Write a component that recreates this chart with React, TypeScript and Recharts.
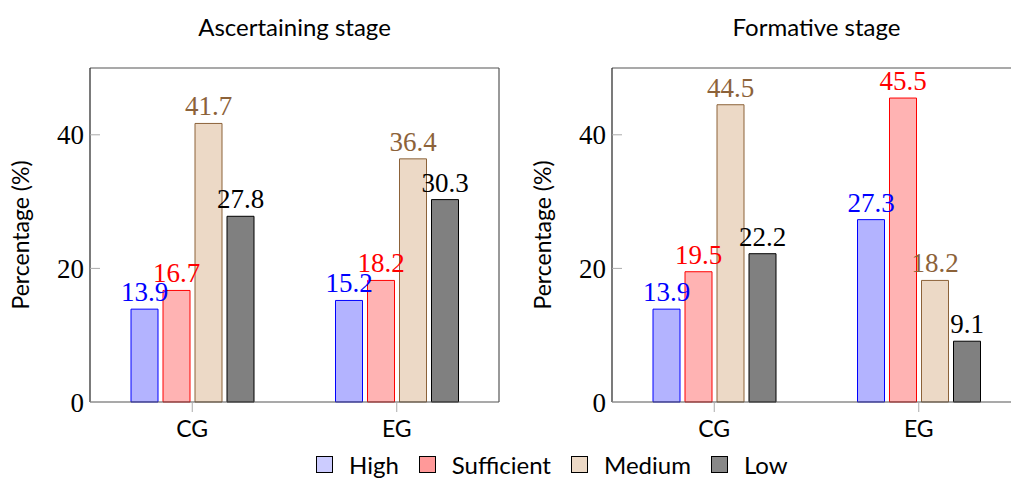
import React from 'react';
import { BarChart, Bar, XAxis, YAxis, LabelList } from 'recharts';

const groups = ['CG', 'EG'];
const yTicks = [0, 20, 40];

const seriesNames = ['High', 'Sufficient', 'Medium', 'Low'];

// Ascertaining stage values per series (CG, EG)
const ascHigh = [13.9, 15.2];
const ascSufficient = [16.7, 18.2];
const ascMedium = [41.7, 36.4];
const ascLow = [27.8, 30.3];

// Formative stage values per series (CG, EG)
const formHigh = [13.9, 27.3];
const formSufficient = [19.5, 45.5];
const formMedium = [44.5, 18.2];
const formLow = [22.2, 9.1];

const SERIF = '"Liberation Serif", "DejaVu Serif", serif';
const SANS = 'Lato, "Noto Sans", sans-serif';

const STYLES = [
  { key: 'high', fill: '#b3b3ff', stroke: '#0000ff', text: '#0000ff', legend: '#ccccff' },
  { key: 'sufficient', fill: '#ffb3b3', stroke: '#ff0000', text: '#ff0000', legend: '#ff9999' },
  { key: 'medium', fill: '#ecd9c6', stroke: '#8c6239', text: '#8c6239', legend: '#ecd9c6' },
  { key: 'low', fill: '#808080', stroke: '#000000', text: '#000000', legend: '#888888' },
];

const buildRows = (h: number[], s: number[], m: number[], l: number[]) =>
  groups.map((g, i) => ({ name: g, high: h[i], sufficient: s[i], medium: m[i], low: l[i] }));

const ascData = buildRows(ascHigh, ascSufficient, ascMedium, ascLow);
const formData = buildRows(formHigh, formSufficient, formMedium, formLow);

const spine = '#555';
const tickColor = '#aaa';

function YLabel(props: any) {
  const { viewBox } = props;
  const cx = 20;
  const cy = viewBox.y + viewBox.height / 2;
  return (
    <text
      x={cx}
      y={cy}
      transform={`rotate(-90, ${cx}, ${cy})`}
      textAnchor="middle"
      dominantBaseline="central"
      fontFamily={SANS}
      fontSize={23}
      fill="#000"
    >
      Percentage (%)
    </text>
  );
}

function StageChart({ data }: { data: any[] }) {
  return (
    <BarChart
      width={510}
      height={480}
      data={data}
      margin={{ top: 67, right: 10, bottom: 48, left: 50 }}
      barSize={27}
      barGap={5}
    >
      <XAxis
        dataKey="name"
        xAxisId="bottom"
        orientation="bottom"
        height={30}
        tickSize={10}
        tickMargin={9}
        axisLine={{ stroke: spine, strokeWidth: 1.2 }}
        tickLine={{ stroke: tickColor }}
        tick={{ fontFamily: SANS, fontSize: 23, fill: '#000' }}
      />
      <XAxis
        dataKey="name"
        xAxisId="top"
        orientation="top"
        height={1}
        tickSize={10}
        tick={false}
        axisLine={{ stroke: spine, strokeWidth: 1.2 }}
        tickLine={{ stroke: tickColor }}
      />
      <YAxis
        yAxisId="left"
        width={40}
        domain={[0, 50]}
        ticks={yTicks}
        tickSize={-10}
        tickMargin={16}
        axisLine={{ stroke: '#222', strokeWidth: 1.2 }}
        tickLine={{ stroke: tickColor }}
        tick={{ fontFamily: SERIF, fontSize: 27, fill: '#000' }}
        label={<YLabel />}
      />
      <YAxis
        yAxisId="right"
        orientation="right"
        width={1}
        domain={[0, 50]}
        ticks={yTicks}
        tickSize={-10}
        tick={false}
        axisLine={{ stroke: spine, strokeWidth: 1.2 }}
        tickLine={{ stroke: tickColor }}
      />
      {STYLES.map((s) => (
        <Bar
          key={s.key}
          dataKey={s.key}
          xAxisId="bottom"
          yAxisId="left"
          fill={s.fill}
          stroke={s.stroke}
          strokeWidth={1}
          isAnimationActive={false}
        >
          <LabelList
            dataKey={s.key}
            position="top"
            offset={8}
            fill={s.text}
            fontFamily={SERIF}
            fontSize={27}
          />
        </Bar>
      ))}
    </BarChart>
  );
}

export default function App() {
  return (
    <div
      style={{
        position: 'fixed',
        left: 0,
        top: 0,
        width: 1011,
        height: 480,
        overflow: 'hidden',
        background: '#fff',
      }}
    >
      <div style={{ position: 'absolute', left: 0, top: 0 }}>
        <StageChart data={ascData} />
      </div>
      <div style={{ position: 'absolute', left: 522, top: 0 }}>
        <StageChart data={formData} />
      </div>
      <div
        style={{
          position: 'absolute',
          left: 90,
          width: 409,
          top: 12,
          textAlign: 'center',
          fontFamily: SANS,
          fontSize: 24,
        }}
      >
        Ascertaining stage
      </div>
      <div
        style={{
          position: 'absolute',
          left: 612,
          width: 409,
          top: 12,
          textAlign: 'center',
          fontFamily: SANS,
          fontSize: 24,
        }}
      >
        Formative stage
      </div>
      <div
        style={{
          position: 'absolute',
          left: 316,
          top: 450,
          display: 'flex',
          alignItems: 'center',
          fontFamily: SANS,
          fontSize: 24,
        }}
      >
        {seriesNames.map((n, i) => (
          <div key={n} style={{ display: 'flex', alignItems: 'center', marginRight: 20 }}>
            <span
              style={{
                display: 'inline-block',
                width: 15,
                height: 15,
                background: STYLES[i].legend,
                border: '1px solid #000',
                marginRight: 16,
              }}
            />
            <span>{n}</span>
          </div>
        ))}
      </div>
    </div>
  );
}
